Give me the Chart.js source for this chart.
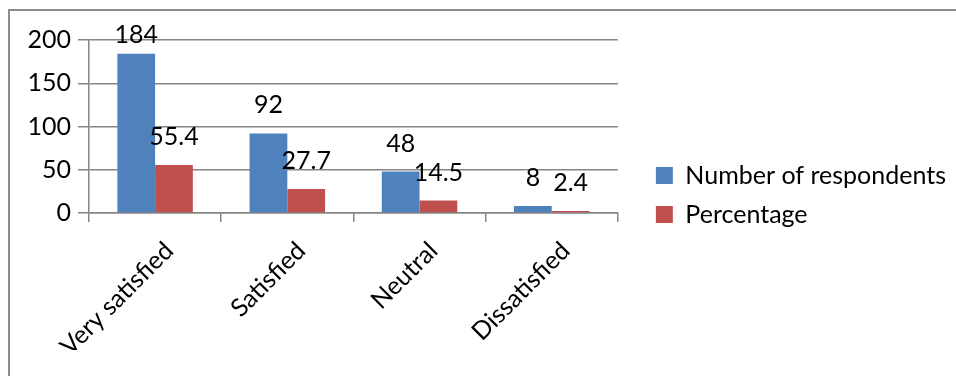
<!DOCTYPE html>
<html>
<head>
<meta charset="utf-8">
<script src="https://cdn.jsdelivr.net/npm/chart.js@4.4.0/dist/chart.umd.min.js"></script>
<style>
  html, body { margin: 0; padding: 0; background: #fff; }
  #wrap { position: relative; width: 956px; height: 376px; overflow: hidden; }
  #frame {
    position: absolute; left: 8px; top: 9px; right: 0; bottom: -4px;
    border-top: 2px solid #8c8c8c; border-left: 2px solid #8c8c8c;
  }
  #chart { position: absolute; left: 0; top: 0; }
</style>
</head>
<body>
<div id="wrap">
  <div id="frame"></div>
  <canvas id="chart" width="956" height="376"></canvas>
</div>
<script>
const categories = ['Very satisfied', 'Satisfied', 'Neutral', 'Dissatisfied'];
const respondents = [184, 92, 48, 8];
const percentage = [55.4, 27.7, 14.5, 2.4];
const seriesNames = ['Number of respondents', 'Percentage'];
const yMin = 0;
const yMax = 200;
const yStep = 50;

const FONT_FAMILY = 'Lato, "Open Sans", sans-serif';
const FONT_SIZE = 25;
const LEGEND_PAD = 14;
const LEGEND_BOX = 17;
const GAP = 24;

// right padding so the plot area ends where the reference does
const canvas = document.getElementById('chart');
const measureCtx = canvas.getContext('2d');
measureCtx.font = `${FONT_SIZE}px ${FONT_FAMILY}`;
const textW = Math.max(...seriesNames.map((s) => measureCtx.measureText(s).width));
const legendW = LEGEND_PAD + LEGEND_BOX + FONT_SIZE / 2 + textW + 10;
const padRight = Math.max(0, 956 - 621 - GAP - legendW);

const valueLabels = {
  id: 'valueLabels',
  afterDatasetsDraw(chart) {
    const { ctx, chartArea } = chart;
    ctx.save();
    ctx.font = `${FONT_SIZE}px ${FONT_FAMILY}`;
    ctx.fillStyle = '#000';
    ctx.textAlign = 'center';
    ctx.textBaseline = 'middle';
    chart.data.datasets.forEach((dataset, i) => {
      chart.getDatasetMeta(i).data.forEach((bar, j) => {
        const y = Math.max(bar.y - 28, chartArea.top - 5);
        ctx.fillText(String(dataset.data[j]), bar.x, y);
      });
    });
    ctx.restore();
  },
};

new Chart(canvas, {
  type: 'bar',
  data: {
    labels: categories,
    datasets: [
      {
        label: seriesNames[0],
        data: respondents,
        backgroundColor: '#4f81bd',
        categoryPercentage: 0.571,
        barPercentage: 1,
      },
      {
        label: seriesNames[1],
        data: percentage,
        backgroundColor: '#c0504d',
        categoryPercentage: 0.571,
        barPercentage: 1,
      },
    ],
  },
  options: {
    responsive: false,
    animation: false,
    layout: {
      padding: { left: 10, top: 40, right: padRight, bottom: 26 },
    },
    plugins: {
      legend: {
        position: 'right',
        maxWidth: 400,
        labels: {
          boxWidth: LEGEND_BOX,
          boxHeight: LEGEND_BOX,
          padding: LEGEND_PAD,
          color: '#000',
          font: { family: FONT_FAMILY, size: FONT_SIZE },
        },
      },
      tooltip: { enabled: false },
    },
    scales: {
      x: {
        grid: {
          drawOnChartArea: false,
          color: '#868686',
          lineWidth: 1.5,
          tickLength: 9,
        },
        border: { color: '#868686', width: 1.5 },
        ticks: {
          color: '#000',
          minRotation: 45,
          maxRotation: 45,
          padding: 14,
          labelOffset: 14,
          font: { family: FONT_FAMILY, size: FONT_SIZE },
        },
        afterFit(scale) {
          scale.height = 137;
        },
      },
      y: {
        min: yMin,
        max: yMax,
        ticks: {
          stepSize: yStep,
          color: '#000',
          padding: 7,
          font: { family: FONT_FAMILY, size: FONT_SIZE },
        },
        grid: { color: '#868686', lineWidth: 1.5, tickLength: 11 },
        border: { color: '#868686', width: 1.5 },
        afterFit(scale) {
          scale.width = 79;
        },
      },
      gap: {
        type: 'linear',
        position: 'right',
        grid: { display: false },
        ticks: { display: false },
        border: { display: false },
        afterFit(scale) {
          scale.width = GAP;
        },
      },
    },
  },
  plugins: [valueLabels],
});
</script>
</body>
</html>
